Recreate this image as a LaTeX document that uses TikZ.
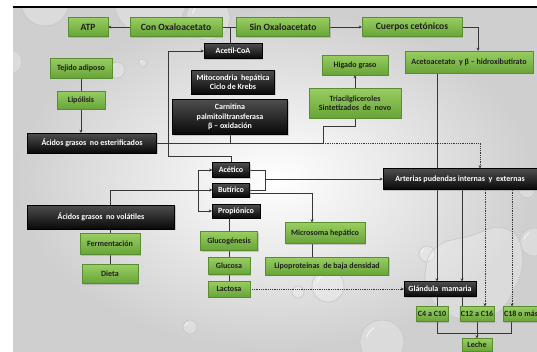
\documentclass[tikz,border=0pt]{standalone}
\usepackage{fontspec}
\setmainfont{Carlito}
\usetikzlibrary{arrows.meta,shadows,calc}
\definecolor{grtop}{RGB}{152,206,98}
\definecolor{grbot}{RGB}{104,164,56}
\definecolor{grline}{RGB}{90,140,50}
\definecolor{bktop}{RGB}{78,78,78}
\definecolor{bkbot}{RGB}{8,8,8}
\definecolor{lncol}{RGB}{55,55,55}
\pgfdeclarelayer{back}
\pgfdeclarelayer{mid}
\pgfsetlayers{back,mid,main}
\begin{document}
\begin{tikzpicture}[x=1pt,y=-1pt,
  gbox/.style={draw=grline, line width=0.4pt, top color=grtop, bottom color=grbot,
    text=black!88, font=\fontsize{8}{9.2}\selectfont\bfseries, align=center, inner sep=1pt,
    drop shadow={shadow xshift=1pt, shadow yshift=-1.2pt, opacity=0.35}},
  tbox/.style={gbox, font=\fontsize{9.6}{11}\selectfont\bfseries},
  kbox/.style={draw=black, line width=0.4pt, top color=bktop, bottom color=bkbot,
    text=white, font=\fontsize{8}{9.2}\selectfont\bfseries, align=center, inner sep=1pt,
    drop shadow={shadow xshift=1pt, shadow yshift=-1.2pt, opacity=0.35}},
  ln/.style={draw=lncol, line width=0.8pt},
  arr/.style={ln, -{Stealth[length=3pt,width=3pt]}},
  dotarr/.style={arr, densely dotted},
  bubble/.style={draw=gray!45, line width=0.6pt, fill=white, fill opacity=0.25}
]
\useasboundingbox (0,0) rectangle (537,351);

\begin{pgfonlayer}{back}
  \fill[white] (0,0) rectangle (537,351);
  \shade[inner color=white, outer color=black!19] (13,8) rectangle (537,351);
  \begin{scope}
    \clip (13,8) rectangle (537,351);
    \foreach \cx/\cy/\r in {45/2/24, 150/0/36, 208/18/22, 143/63/4, 10/62/12, 117/70/8,
      328/286/16, 298/292/6, 427/254/8, 382/342/22, 190/327/7, 534/242/14, 527/190/8, 472/318/5}
      {\draw[bubble] (\cx,\cy) circle[radius=\r];
       \draw[white, line width=0.8pt, opacity=0.8] (\cx-0.7*\r,\cy-0.2*\r) arc[start angle=195, end angle=240, radius=0.75*\r];}
    \draw[bubble] plot[smooth cycle, tension=0.8] coordinates
      {(438,246) (470,236) (503,228) (522,250) (514,290) (488,318) (452,316) (430,296) (426,268)};
  \end{scope}
  \draw[black, line width=1.3pt] (13,7) -- (537,7);
\end{pgfonlayer}

% top row
\node[tbox, minimum width=40pt, minimum height=19pt] (atp) at (88,27) {ATP};
\node[tbox, minimum width=92pt, minimum height=19pt] (con) at (176,27) {Con Oxaloacetato};
\node[tbox, minimum width=93pt, minimum height=19pt] (sin) at (283,27) {Sin Oxaloacetato};
\node[tbox, minimum width=100pt, minimum height=19pt] (cuer) at (412,27) {Cuerpos cetónicos};

% black column
\node[kbox, minimum width=58pt, minimum height=15pt] (acetil) at (233,51) {Acetil-CoA};
\node[kbox, minimum width=83pt, minimum height=24pt] (mito) at (233,82) {Mitocondria\ \ hepática\\Ciclo de Krebs};
\node[kbox, minimum width=115pt, minimum height=35pt] (carn) at (230,117) {Carnitina\\palmitoiltransferasa\\β – oxidación};

% left
\node[gbox, minimum width=62pt, minimum height=20pt] (tej) at (81,68) {Tejido adiposo};
\node[gbox, minimum width=48pt, minimum height=18pt] (lip) at (81,100) {Lipólisis};
\node[kbox, minimum width=129pt, minimum height=20pt] (noest) at (92,143) {Ácidos grasos\ \ no esterificados};

% right top
\node[gbox, minimum width=66pt, minimum height=20pt] (hig) at (355,65) {Higado graso};
\node[gbox, minimum width=92pt, minimum height=30pt] (tria) at (355,103) {Triacilgliceroles\\Sintetizados\ \ de\ \ novo};
\node[gbox, minimum width=128pt, minimum height=22pt] (aceto) at (469,62) {Acetoacetato\ \ y β – hidroxibutirato};
\node[kbox, minimum width=154pt, minimum height=21pt] (art) at (460,179) {Arterias pudendas internas\ \ y\ \ externas};

% VFA
\node[kbox, minimum width=37pt, minimum height=15pt] (acetic) at (231,170) {Acético};
\node[kbox, minimum width=37pt, minimum height=14pt] (but) at (231,190) {Butírico};
\node[kbox, minimum width=48pt, minimum height=14pt] (prop) at (236,211) {Propiónico};
\node[kbox, minimum width=147pt, minimum height=24pt] (novol) at (101,217) {Ácidos grasos\ \ no volátiles};
\node[gbox, minimum width=60pt, minimum height=21pt] (ferm) at (110,244) {Fermentación};
\node[gbox, minimum width=56pt, minimum height=19pt] (dieta) at (110,274) {Dieta};
\node[gbox, minimum width=57pt, minimum height=19pt] (gluco) at (229,241) {Glucogénesis};
\node[gbox, minimum width=42pt, minimum height=17pt] (glucosa) at (229,266) {Glucosa};
\node[gbox, minimum width=42pt, minimum height=16pt] (lact) at (229,289) {Lactosa};
\node[gbox, minimum width=80pt, minimum height=21pt] (micro) at (325,233) {Microsoma hepático};
\node[gbox, minimum width=123pt, minimum height=18pt] (lipo) at (327,266) {Lipoproteinas\ \ de baja densidad};

% mammary
\node[kbox, minimum width=72pt, minimum height=15pt] (glan) at (440,289) {Glándula\ \ mamaria};
\node[gbox, minimum width=32pt, minimum height=15pt] (c4) at (432,314) {C4 a C10};
\node[gbox, minimum width=34pt, minimum height=15pt] (c12) at (477,314) {C12 a C16};
\node[gbox, minimum width=36pt, minimum height=15pt] (c18) at (521,314) {C18 o más};
\node[gbox, minimum width=30pt, minimum height=13pt] (leche) at (477,345) {Leche};

\begin{pgfonlayer}{mid}
  \draw[arr] (con) -- (atp);
  \draw[ln] (con.east) -- (sin.west);
  \coordinate (j1) at (230,27);
  \draw[ln] (j1) -- (j1 |- acetil.north);
  \draw[arr] (sin) -- (cuer);
  \draw[arr] (cuer.east) -| (478,0 |- aceto.north);

  \draw[ln] (tej) -- (lip);
  \draw[arr] (lip.south) -- (lip.south |- noest.north);

  \draw[arr] (acetic.north) |- (168,156) -- (168,0 |- acetil.west) -- (acetil.west);

  \coordinate (k1) at (323,143);
  \draw[ln] (noest.east) -- (k1) -- (323,126) -- (355,126) -- (tria.south);
  \draw[ln] (carn.south) -- (carn.south |- k1);
  \draw[dotarr] (k1) -- (480,143) -- (480,0 |- art.north);
  \draw[arr] (tria) -- (hig);

  \draw[ln] (198,0 |- acetic.west) -- (198,0 |- prop.west);
  \draw[arr] (198,0 |- acetic.west) -- (acetic.west);
  \draw[arr] (198,0 |- prop.west) -- (prop.west);
  \draw[arr] (110,0 |- novol.north) |- (but.west);

  \draw[ln] (acetic.east) -| (265,0 |- but.east) -- (but.east);
  \draw[arr] (265,0 |- art.west) -- (art.west);
  \draw[arr] ($(but.east)+(0,3)$) -| (312,0 |- micro.north);
  \draw[ln] (312,0 |- micro.south) -- (312,0 |- lipo.north);

  \draw[ln] (ferm.north |- novol.south) -- (ferm.north);
  \draw[ln] (ferm) -- (dieta);
  \draw[ln] (gluco.north |- prop.south) -- (gluco.north);
  \draw[ln] (gluco) -- (glucosa);
  \draw[ln] (glucosa) -- (lact);
  \draw[dotarr] (lact) -- (glan);

  \draw[arr] (437,0 |- aceto.south) -- (437,0 |- glan.north);
  \draw[arr] (462,0 |- art.south) -- (462,0 |- glan.north);
  \draw[dotarr] (485,0 |- art.south) -- (485,0 |- c12.north);
  \draw[dotarr] (512,0 |- art.south) -- (512,0 |- c18.north);
  \draw[ln] (437,0 |- glan.south) -- (437,0 |- c4.north);
  \draw[ln] (462,0 |- glan.south) -- (462,0 |- c12.north);
  \draw[ln] (437,0 |- c4.south) -- (437,333) -- (511,333) -- (511,0 |- c18.south);
  \draw[arr] (c12.south) -- (leche.north);
\end{pgfonlayer}
\end{tikzpicture}
\end{document}
